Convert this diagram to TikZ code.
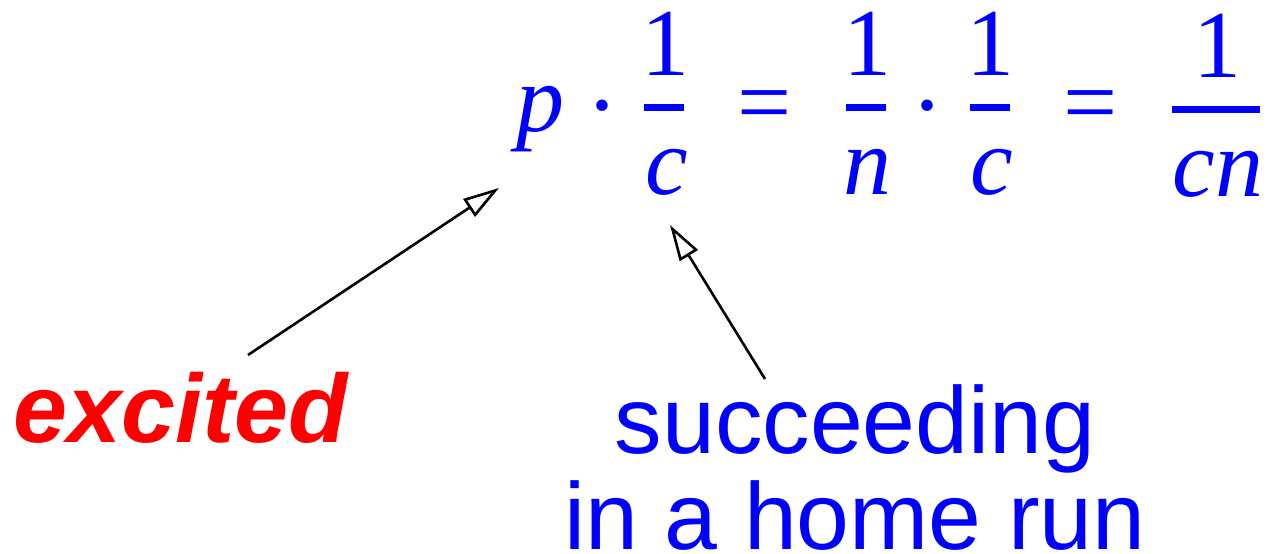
\documentclass[tikz,border=0pt]{standalone}
\usepackage{fontspec}
\setmainfont{Liberation Serif}
\newfontfamily\labelfont{Liberation Sans}
\usetikzlibrary{arrows.meta,positioning}
\definecolor{fmblue}{RGB}{0,0,255}
\definecolor{fmred}{RGB}{255,0,0}

\begin{document}
\begin{tikzpicture}[x=1pt,y=-1pt,
    glyph/.style={text=fmblue,inner sep=0pt,anchor=base,font=\fontsize{96}{96}\selectfont},
    var/.style={glyph,font=\fontsize{96}{96}\selectfont\itshape},
    bar/.style={fill=fmblue},
    pointer/.style={draw=black,line width=2.6pt,-{Triangle[open,length=36pt,width=21pt]}}]
  \useasboundingbox (0,0) rectangle (1272,554);
  % p . 1/c
  \node[var] (p) at (540,131) {p};
  \node[glyph] (dot1) at (602,137) {·};
  \node[glyph] (num1) at (665,75) {1};
  \fill[bar] (644,104) rectangle (684,111);
  \node[var] (den1) at (667,194) {c};
  \node[glyph] (eq1) at (765,134) {=};
  % 1/n . 1/c
  \node[glyph] (num2) at (867,75) {1};
  \fill[bar] (846,104) rectangle (886,111);
  \node[var] (den2) at (867,194) {n};
  \node[glyph] (dot2) at (927,137) {·};
  \node[glyph] (num3) at (990,75) {1};
  \fill[bar] (970,104) rectangle (1010,111);
  \node[var] (den3) at (992,194) {c};
  \node[glyph] (eq2) at (1091,134) {=};
  % 1/cn
  \node[glyph] (num4) at (1217,77) {1};
  \fill[bar] (1172,106) rectangle (1260,113);
  \node[var] (den4) at (1218,196) {cn};
  % labels
  \node[inner sep=0pt,anchor=base,text=fmred,font=\fontsize{97}{97}\selectfont\labelfont\bfseries\itshape] (excited) at (181,442) {excited};
  \node[inner sep=0pt,anchor=base,text=fmblue,align=center,font=\fontsize{95}{96}\selectfont\labelfont] (homerun) at (855,549) {succeeding\\in a home run};
  \coordinate (excTail) at (248,355);
  \coordinate (pTip) at (499,188);
  \coordinate (runTail) at (765,379);
  \coordinate (cTip) at (670,225);
  \draw[pointer] (excTail) -- (pTip);
  \draw[pointer] (runTail) -- (cTip);
\end{tikzpicture}
\end{document}
